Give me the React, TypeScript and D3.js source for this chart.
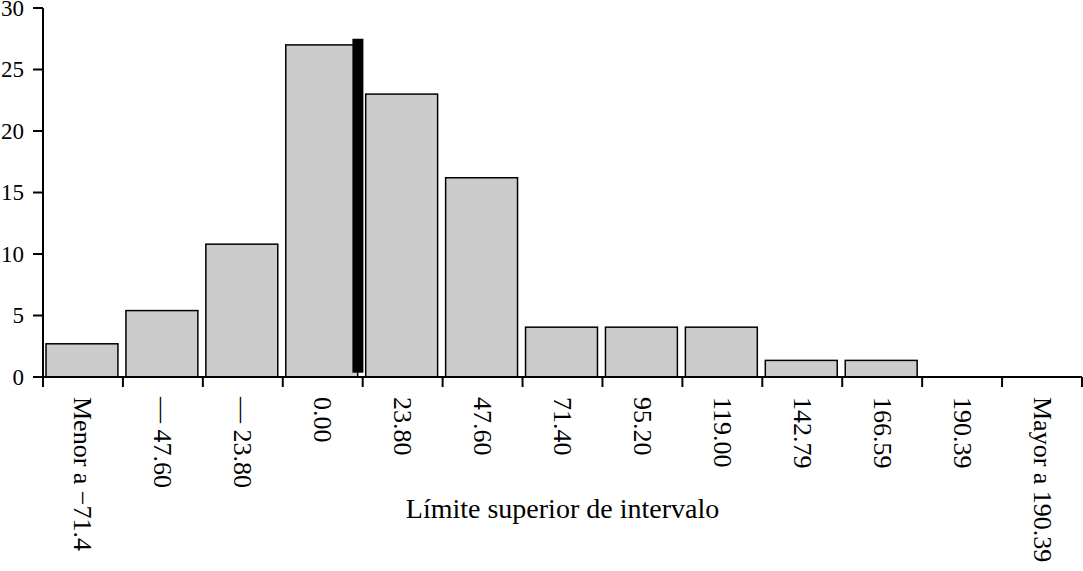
import React from "react";
import * as d3 from "d3";

const categories = [
  "Menor a −71.4",
  "— 47.60",
  "— 23.80",
  "0.00",
  "23.80",
  "47.60",
  "71.40",
  "95.20",
  "119.00",
  "142.79",
  "166.59",
  "190.39",
  "Mayor a 190.39",
];
const percentages = [2.7, 5.4, 10.8, 27.0, 23.0, 16.2, 4.05, 4.05, 4.05, 1.35, 1.35, 0, 0];
const yTicks = [0, 5, 10, 15, 20, 25, 30];
const markerIndex = 3.94;
const markerTop = 27.5;
const markerBottom = 0.35;
const xTitle = "Límite superior de intervalo";

const W = 1083;
const H = 571;
const left = 43;
const right = 1082;
const top = 8;
const bottom = 377;
const font = "'Liberation Serif', 'Times New Roman', serif";

export default function App() {
  const x = d3.scaleBand<string>().domain(categories).range([left, right]).paddingInner(0).paddingOuter(0);
  const y = d3.scaleLinear().domain([0, 30]).range([bottom, top]);
  const xi = d3.scaleLinear().domain([0, categories.length]).range([left, right]);
  const bw = x.bandwidth();
  const tickX = d3.range(categories.length + 1).map((i) => xi(i));
  const mx = xi(markerIndex);

  return (
    <svg width={W} height={H} style={{ position: "absolute", left: 0, top: 0, background: "#fff" }}>
      {categories.map((c, i) => {
        const v = percentages[i];
        if (v <= 0) return null;
        return (
          <rect
            key={c}
            x={(x(c) as number) + 3}
            y={y(v)}
            width={bw * 0.9}
            height={y(0) - y(v)}
            fill="#cccccc"
            stroke="#000"
            strokeWidth={1.5}
          />
        );
      })}
      <rect x={mx - 5.5} y={y(markerTop)} width={11} height={y(markerBottom) - y(markerTop)} fill="#000" />
      {/* y axis */}
      <line x1={left} x2={left} y1={top} y2={bottom} stroke="#000" strokeWidth={2} />
      {yTicks.map((t) => (
        <g key={t}>
          <line x1={left - 10} x2={left} y1={y(t)} y2={y(t)} stroke="#000" strokeWidth={2} />
          <text x={24} y={y(t)} textAnchor="end" dominantBaseline="central" fontFamily={font} fontSize={23} fill="#000">
            {t}
          </text>
        </g>
      ))}
      {/* x axis */}
      <line x1={left - 1} x2={right} y1={bottom} y2={bottom} stroke="#000" strokeWidth={2} />
      {tickX.map((tx, i) => (
        <line key={i} x1={tx} x2={tx} y1={bottom} y2={bottom + 10} stroke="#000" strokeWidth={2} />
      ))}
      {categories.map((c) => {
        const cx = (x(c) as number) + bw / 2;
        return (
          <text
            key={c}
            transform={`translate(${cx},${bottom + 20}) rotate(90)`}
            textAnchor="start"
            dominantBaseline="central"
            fontFamily={font}
            fontSize={26}
            fill="#000"
          >
            {c}
          </text>
        );
      })}
      <text x={(left + right) / 2} y={518} textAnchor="middle" fontFamily={font} fontSize={28} fill="#000">
        {xTitle}
      </text>
    </svg>
  );
}
